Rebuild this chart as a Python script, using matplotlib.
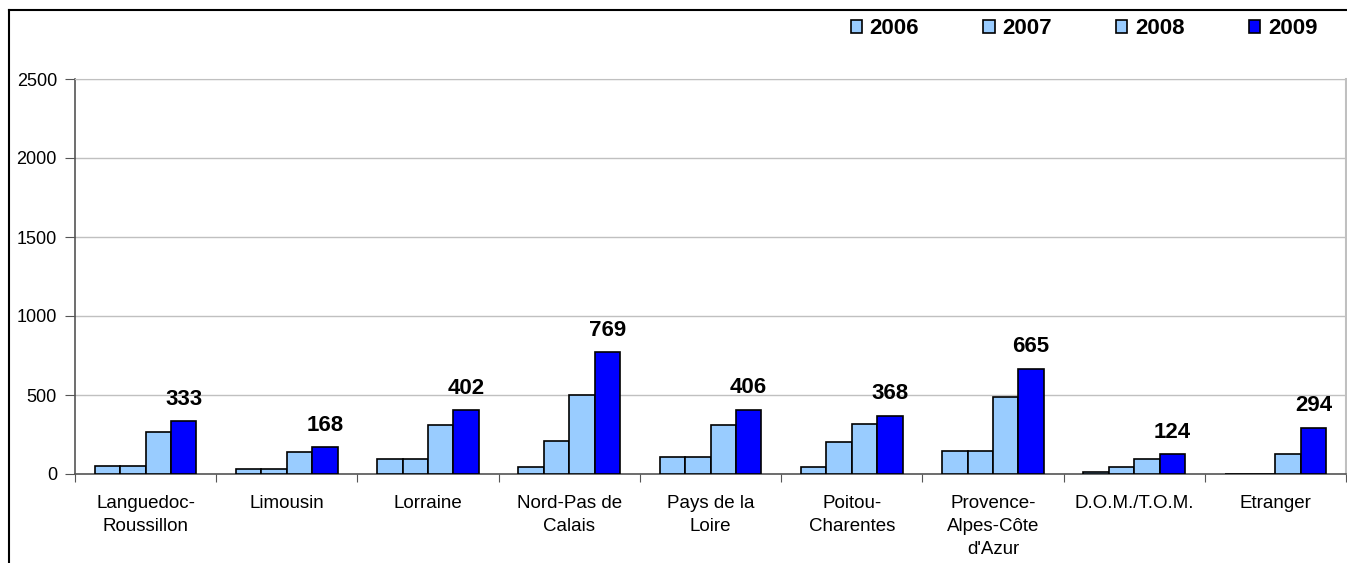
import matplotlib
matplotlib.use('Agg')
import matplotlib.pyplot as plt
from matplotlib.lines import Line2D
import numpy as np

plt.rcParams['font.family'] = ['Liberation Sans', 'DejaVu Sans']

regions = ['Languedoc-\nRoussillon', 'Limousin', 'Lorraine', 'Nord-Pas de\nCalais',
           'Pays de la\nLoire', 'Poitou-\nCharentes', 'Provence-\nAlpes-Côte\nd\'Azur',
           'D.O.M./T.O.M.', 'Etranger']
years = ['2006', '2007', '2008', '2009']
v2006 = [50, 30, 92, 44, 107, 44, 145, 10, 0]
v2007 = [50, 30, 92, 212, 107, 201, 145, 44, 0]
v2008 = [264, 139, 308, 500, 308, 319, 489, 95, 126]
v2009 = [333, 168, 402, 769, 406, 368, 665, 124, 294]
colors = ['#99CCFF', '#99CCFF', '#99CCFF', '#0000FF']

fig = plt.figure(figsize=(13.47, 5.63), dpi=100)
ax = fig.add_axes([75 / 1347, 1 - 474 / 563, (1346 - 75) / 1347, 395 / 563])

x = np.arange(len(regions))
w = 0.18
series = [v2006, v2007, v2008, v2009]
for i, vals in enumerate(series):
    ax.bar(x + (i - 1.5) * w, vals, width=w, color=colors[i],
           edgecolor='black', linewidth=1.2, label=years[i], zorder=3)

for xi, v in zip(x, v2009):
    ax.text(xi + 1.5 * w, v + 75, str(v), ha='center', va='bottom',
            fontsize=16, fontweight='bold')

ax.set_xlim(-0.5, len(regions) - 0.5)
ax.set_ylim(0, 2500)
ax.set_yticks([0, 500, 1000, 1500, 2000, 2500])
ax.yaxis.grid(True, color='#C0C0C0', linewidth=1, zorder=0)

# category labels between boundary ticks
ax.set_xticks(np.arange(-0.5, len(regions), 1))
ax.set_xticklabels([])
ax.set_xticks(x, minor=True)
ax.set_xticklabels(regions, minor=True, fontsize=13.5, linespacing=1.45)
ax.tick_params(axis='x', which='minor', length=0, pad=15)
ax.tick_params(axis='x', which='major', length=6, color='#555555', direction='out')
ax.tick_params(axis='y', length=7, color='#555555', labelsize=13, pad=6)

ax.spines['left'].set_color('#555555')
ax.spines['bottom'].set_color('#555555')
ax.spines['left'].set_linewidth(1.2)
ax.spines['bottom'].set_linewidth(1.2)
ax.spines['top'].set_color('#C0C0C0')
ax.spines['right'].set_color('#C0C0C0')
ax.spines['right'].set_linewidth(1.5)

leg = fig.legend(loc='upper right', bbox_to_anchor=(0.993, 1.003), ncol=4,
                 frameon=False, prop={'weight': 'bold', 'size': 16},
                 handlelength=0.5, handleheight=0.5, handletextpad=0.35,
                 columnspacing=2.9)

# outer frame lines (top and left)
fig.add_artist(Line2D([9 / 1347, 1], [1 - 10 / 563, 1 - 10 / 563],
                      transform=fig.transFigure, color='black', linewidth=1.5))
fig.add_artist(Line2D([9 / 1347, 9 / 1347], [0, 1 - 10 / 563],
                      transform=fig.transFigure, color='black', linewidth=1.5))

fig.savefig('out.png', dpi=100)
